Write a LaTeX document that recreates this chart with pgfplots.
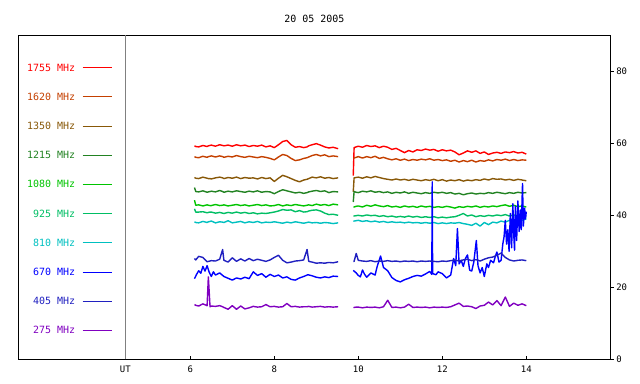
\documentclass[border=0pt]{standalone}
\usepackage{fontspec}
\setmainfont{DejaVu Sans Mono}
\usepackage{pgfplots}
\usepackage{pgfplotstable}
\pgfplotsset{compat=1.18}
\definecolor{cA}{RGB}{255,0,0}
\definecolor{cB}{RGB}{196,64,0}
\definecolor{cC}{RGB}{136,88,8}
\definecolor{cD}{RGB}{34,130,34}
\definecolor{cE}{RGB}{0,196,0}
\definecolor{cF}{RGB}{0,190,100}
\definecolor{cG}{RGB}{0,192,192}
\definecolor{cH}{RGB}{0,0,255}
\definecolor{cI}{RGB}{32,32,192}
\definecolor{cJ}{RGB}{128,0,192}

\pgfplotstableread{
t a b c d e f g i j
6.10 59.3 56.3 50.5 47.7 44.2 41.8 38.2 28.0 15.2
6.13 59.1 56.1 50.3 46.6 42.8 40.9 38.0 27.6 15.0
6.20 59.0 56.0 50.2 46.5 42.9 40.9 37.9 28.6 14.8
6.30 59.4 56.4 50.6 46.8 42.6 41.0 38.3 28.3 15.4
6.40 59.1 56.1 50.3 46.4 42.9 40.7 38.0 27.1 14.9
6.43 59.3 56.3 50.2 46.5 42.8 40.8 38.2 27.2 22.9
6.47 59.4 56.4 50.2 46.6 42.7 40.9 38.3 27.3 14.6
6.50 59.5 56.5 50.1 46.7 42.7 40.9 38.4 27.4 14.8
6.60 59.2 56.2 50.4 46.5 43.0 40.6 37.9 27.3 14.7
6.70 59.6 56.5 50.6 46.9 42.7 40.8 38.2 27.8 14.9
6.77 59.4 56.3 50.4 46.6 42.8 40.6 38.1 30.5 14.6
6.80 59.3 56.1 50.2 46.4 42.9 40.5 38.0 27.5 14.4
6.90 59.5 56.4 50.5 46.7 42.6 40.8 38.5 27.0 13.9
7.00 59.2 56.2 50.3 46.5 42.8 40.6 37.9 28.2 14.9
7.10 59.6 56.6 50.6 46.8 43.0 40.9 38.1 27.2 13.9
7.20 59.3 56.3 50.2 46.6 42.7 40.6 38.3 27.9 14.8
7.30 59.5 56.1 50.5 46.4 42.9 40.8 37.9 27.3 14.0
7.40 59.1 56.4 50.3 46.7 42.6 40.5 38.2 28.0 14.3
7.50 59.4 56.2 50.4 46.5 42.8 40.7 38.0 27.4 14.7
7.60 59.2 56.0 50.1 46.8 43.0 40.4 38.3 27.8 14.5
7.70 59.5 56.3 50.5 46.4 42.7 40.6 37.9 27.5 14.6
7.80 59.0 56.1 50.2 46.6 42.9 40.5 38.1 27.2 15.2
7.90 59.3 55.8 50.4 46.5 42.6 40.7 38.0 27.6 14.6
8.00 58.8 55.4 49.4 46.0 42.7 40.9 38.2 28.3 14.7
8.10 59.6 56.2 50.3 46.6 43.0 41.2 38.0 28.9 14.5
8.20 60.5 56.9 51.1 47.1 42.6 41.6 37.8 27.5 14.6
8.30 60.8 56.6 50.7 46.8 42.9 41.4 38.1 26.8 15.5
8.40 59.6 55.8 50.2 46.5 42.7 41.5 37.9 27.0 14.6
8.50 58.9 55.2 49.7 46.2 43.0 41.0 38.2 27.3 14.7
8.60 59.1 55.4 49.3 46.4 42.8 41.3 38.0 27.4 14.5
8.70 58.8 55.8 49.8 46.1 42.6 40.9 37.8 27.6 14.6
8.78 59.0 56.0 50.0 46.3 42.8 41.0 38.0 30.5 14.6
8.82 59.3 56.2 50.2 46.5 42.9 41.2 38.1 27.2 14.7
8.90 59.6 56.6 50.6 46.7 42.7 41.4 37.9 27.0 14.5
9.00 59.9 56.9 50.4 46.9 43.1 41.5 38.0 26.7 14.6
9.10 59.5 56.5 50.7 46.6 42.8 41.2 37.8 26.8 14.7
9.20 59.0 56.8 50.3 46.8 43.0 40.6 38.0 26.7 14.5
9.30 58.7 56.3 50.5 46.3 42.7 40.2 37.9 26.9 14.6
9.40 58.9 56.5 50.2 46.6 43.1 40.3 37.7 26.8 14.5
9.52 58.5 56.3 50.4 46.5 42.9 40.0 37.9 27.1 14.6
9.70 nan nan nan nan nan nan nan nan nan
9.88 51.0 55.9 46.5 43.7 42.3 39.8 38.4 27.2 14.4
9.90 58.8 55.9 50.4 46.6 42.3 39.8 38.4 27.2 14.4
9.95 59.0 56.1 50.5 46.4 42.5 39.9 38.5 29.4 14.5
10.00 59.2 56.3 50.6 46.3 42.6 40.0 38.6 27.5 14.5
10.10 58.9 55.9 50.3 46.7 42.3 39.8 38.3 27.3 14.3
10.20 59.4 56.3 50.7 46.5 42.8 40.1 38.5 27.2 14.5
10.30 59.1 56.0 50.4 46.8 42.5 39.9 38.2 27.4 14.4
10.40 59.3 56.4 50.8 46.4 42.9 40.0 38.4 27.1 14.5
10.50 58.8 55.8 50.5 46.6 42.6 39.7 38.1 27.3 14.3
10.60 59.2 56.1 50.2 46.3 42.4 39.9 38.3 27.2 14.6
10.70 58.9 55.7 50.0 46.5 42.7 39.6 38.0 27.4 16.4
10.80 58.3 55.4 49.8 46.1 42.3 39.8 38.2 27.2 14.4
10.90 58.6 55.7 50.1 46.4 42.5 39.5 38.0 27.3 14.5
11.00 58.0 55.3 49.8 46.2 42.2 39.7 38.1 27.1 14.3
11.10 57.4 55.6 50.0 46.5 42.6 39.5 37.9 27.3 14.5
11.20 58.0 55.2 49.7 46.1 42.3 39.8 38.1 27.2 15.3
11.30 57.6 55.5 50.0 46.4 42.5 39.5 37.9 27.3 14.4
11.40 58.2 55.3 49.8 46.2 42.2 39.7 38.0 27.1 14.5
11.50 58.0 55.6 49.6 46.0 42.6 39.4 37.8 27.3 14.4
11.60 58.4 55.4 49.9 46.3 42.3 39.6 38.0 27.2 14.5
11.70 58.1 55.7 49.7 46.1 42.5 39.4 37.8 27.3 14.3
11.80 58.3 55.3 50.0 46.4 42.2 39.6 38.0 27.2 14.5
11.90 57.8 55.5 49.6 46.2 42.4 39.3 37.7 27.1 14.4
12.00 58.2 55.2 49.9 46.4 42.2 39.5 37.9 27.3 14.5
12.10 57.9 55.4 49.5 46.1 42.5 39.3 37.7 27.2 14.4
12.20 58.1 55.0 49.8 46.3 42.3 39.5 37.9 27.4 14.6
12.30 57.6 55.3 49.6 45.9 42.0 39.6 37.8 27.6 15.1
12.40 56.8 54.8 49.9 46.1 42.4 40.0 38.0 27.3 15.6
12.50 57.3 55.2 49.5 45.7 42.2 40.5 37.7 27.6 14.7
12.60 57.9 54.9 49.8 46.0 42.5 39.8 37.5 27.8 14.8
12.70 57.5 55.3 49.6 46.2 42.3 40.1 37.2 27.4 14.6
12.80 57.9 54.8 49.9 45.9 42.6 39.6 37.8 27.7 14.1
12.90 57.2 55.2 49.7 46.1 42.2 39.9 37.0 27.3 14.8
13.00 57.6 55.0 50.1 46.0 42.5 39.7 38.0 27.8 15.0
13.10 56.9 55.4 49.8 46.3 42.3 40.0 37.4 28.2 15.9
13.20 57.3 55.1 50.2 46.1 42.6 39.8 38.1 28.4 15.1
13.30 57.5 55.5 50.0 46.4 42.4 40.1 37.9 28.9 16.3
13.40 57.2 55.3 50.1 46.2 42.7 39.9 38.4 29.5 14.9
13.50 57.6 55.6 49.8 46.0 42.9 40.2 38.1 28.3 17.3
13.60 57.4 55.2 50.0 46.3 42.5 39.8 38.6 27.6 14.7
13.70 57.7 55.5 49.7 46.1 42.8 40.1 38.3 27.3 15.6
13.80 57.3 55.2 50.0 46.4 42.4 39.9 38.8 27.5 15.0
13.90 57.5 55.4 49.8 46.2 42.6 40.0 38.6 27.6 15.4
14.00 57.0 55.3 49.6 46.3 42.3 39.7 39.0 27.4 14.9
}\mainT

\pgfplotstableread{
t h
6.10 22.4
6.15 23.6
6.20 24.6
6.25 23.9
6.30 25.8
6.35 24.5
6.40 26.0
6.45 24.2
6.50 23.0
6.55 24.3
6.60 23.4
6.70 24.0
6.80 23.0
6.90 22.5
7.00 22.0
7.10 22.6
7.20 22.3
7.30 22.8
7.40 22.4
7.50 24.3
7.60 23.3
7.70 23.8
7.80 22.8
7.90 23.6
8.00 23.0
8.10 23.4
8.20 22.6
8.30 22.9
8.40 22.2
8.50 22.0
8.60 22.6
8.70 23.0
8.80 23.5
8.90 23.2
9.00 22.8
9.10 22.6
9.20 22.9
9.30 22.7
9.40 23.1
9.52 23.0
9.70 nan
9.88 24.7
9.95 24.0
10.00 23.3
10.05 22.9
10.10 24.8
10.15 23.6
10.20 22.8
10.30 24.0
10.40 23.4
10.45 25.8
10.50 27.6
10.53 28.7
10.60 25.5
10.70 24.6
10.80 22.7
10.90 21.9
11.00 21.5
11.10 22.1
11.20 22.5
11.30 23.0
11.40 23.3
11.50 23.1
11.60 23.7
11.70 24.4
11.75 23.6
11.76 49.3
11.77 23.8
11.85 23.5
11.90 24.3
12.00 23.8
12.10 22.6
12.20 23.4
12.27 28.0
12.32 26.0
12.36 36.3
12.40 26.5
12.45 27.5
12.50 25.8
12.55 28.0
12.60 29.0
12.65 24.8
12.70 24.5
12.75 27.0
12.81 33.0
12.85 26.0
12.90 24.0
12.95 25.5
13.00 23.0
13.06 26.5
13.10 25.5
13.15 27.5
13.22 26.8
13.26 28.5
13.30 29.8
13.35 27.0
13.40 27.5
13.44 32.0
13.47 34.0
13.50 38.6
13.53 32.0
13.56 36.0
13.59 30.0
13.62 40.5
13.65 31.0
13.68 43.2
13.70 35.0
13.72 30.3
13.74 42.5
13.77 33.0
13.80 44.0
13.83 35.5
13.86 41.5
13.88 36.0
13.91 48.8
13.93 37.0
13.96 42.0
13.98 39.0
14.00 41.0
}\blueT

\begin{document}
\begin{tikzpicture}
\begin{axis}[
  scale only axis, width=592bp, height=324bp,
  xmin=1.905, xmax=16.0, ymin=0, ymax=90,
  unbounded coords=jump,
  axis line style={black, line width=0.7bp},
  xtick={6,8,10,12,14}, ytick={0,20,40,60,80},
  xtick pos=bottom, ytick pos=right, yticklabel pos=right,
  xtick align=inside, ytick align=outside,
  major tick length=3.5bp,
  tick style={black, line width=0.7bp},
  /pgf/number format/assume math mode=true,
  ticklabel style={font=\fontsize{9}{10}\selectfont},
  xticklabel style={yshift=-3bp},
  yticklabel style={xshift=-1bp},
  extra x ticks={4.452}, extra x tick labels={UT},
  extra x tick style={grid=major, major grid style={gray, line width=0.7bp}, major tick length=0pt},
  title={20 05 2005},
  title style={font=\fontsize{10}{12}\selectfont, yshift=3bp},
  legend cell align=right, legend plot pos=right,
  legend image code/.code={\draw[#1, line width=0.8bp] (0bp,0bp) -- (29bp,0bp);},
  legend style={at={(rel axis cs:0.1583,0.9111)}, anchor=north east, draw=none, fill=none,
    inner sep=0pt, outer sep=0pt, row sep=22.2bp, column sep=7bp,
    nodes={inner sep=0pt, text height=7bp, text depth=0bp, font=\fontsize{10}{12}\selectfont}},
  every axis plot/.append style={line width=1.4bp, no markers, line join=round},
]
\coordinate (O) at (rel axis cs:0,0);
\addplot[cA] table[x=t,y=a] {\mainT}; \addlegendentry{\textcolor{cA}{1755 MHz}}
\addplot[cB] table[x=t,y=b] {\mainT}; \addlegendentry{\textcolor{cB}{1620 MHz}}
\addplot[cC] table[x=t,y=c] {\mainT}; \addlegendentry{\textcolor{cC}{1350 MHz}}
\addplot[cD] table[x=t,y=d] {\mainT}; \addlegendentry{\textcolor{cD}{1215 MHz}}
\addplot[cE] table[x=t,y=e] {\mainT}; \addlegendentry{\textcolor{cE}{1080 MHz}}
\addplot[cF] table[x=t,y=f] {\mainT}; \addlegendentry{\textcolor{cF}{925 MHz}}
\addplot[cG] table[x=t,y=g] {\mainT}; \addlegendentry{\textcolor{cG}{810 MHz}}
\addplot[cH] table[x=t,y=h] {\blueT}; \addlegendentry{\textcolor{cH}{670 MHz}}
\addplot[cI] table[x=t,y=i] {\mainT}; \addlegendentry{\textcolor{cI}{405 MHz}}
\addplot[cJ] table[x=t,y=j] {\mainT}; \addlegendentry{\textcolor{cJ}{275 MHz}}
\end{axis}
\pgfresetboundingbox
\path (O) ++(-18.3bp,-24.7bp) rectangle ++(640bp,384bp);
\end{tikzpicture}
\end{document}
